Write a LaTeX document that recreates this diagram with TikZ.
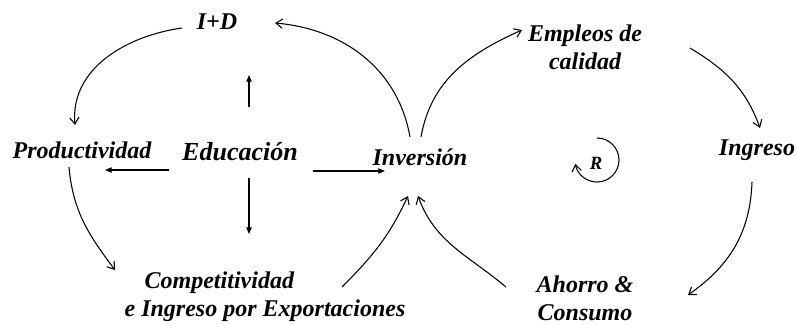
\documentclass[tikz,border=0pt]{standalone}
\usepackage{fontspec}
\setmainfont{Liberation Serif}
\usetikzlibrary{arrows.meta}
\tikzset{
  lbl/.style={font=\fontsize{18}{21}\selectfont\bfseries\itshape, inner sep=0pt, align=center},
  loopar/.style={line width=0.8pt, -{Straight Barb[length=5pt,width=7pt]}},
  straightar/.style={line width=0.8pt, -{Triangle[length=5pt,width=4pt]}}
}
\begin{document}
\begin{tikzpicture}[x=0.75pt,y=0.75pt]
\useasboundingbox (0,0) rectangle (797,-325);
% labels
\node[lbl] (id) at (217,-22) {I+D};
\node[lbl] (prod) at (82,-150) {Productividad};
\node[lbl, font=\fontsize{19.5}{22}\selectfont\bfseries\itshape] (edu) at (240,-152) {Educación};
\node[lbl] (inv) at (420,-157) {Inversión};
\node[lbl] (empl) at (585,-47) {Empleos de\\calidad};
\node[lbl] (ingr) at (757,-150) {Ingreso};
\node[lbl, align=left] (comp) at (265,-297) {\hspace*{15pt}Competitividad\\e Ingreso por Exportaciones};
\node[lbl] (ahorro) at (585,-298) {Ahorro \&\\Consumo};
\node[lbl, font=\fontsize{14}{16}\selectfont\bfseries\itshape] (R) at (596,-163) {R};
% free ends of the education arrows
\coordinate (eduup) at (249,-75);
\coordinate (edudown) at (249,-234);
\coordinate (eduleft) at (105,-170);
\coordinate (eduright) at (385,-171);
\draw[straightar] ([shift={(9,45)}]edu.center) -- (eduup);
\draw[straightar] ([shift={(9,-26)}]edu.center) -- (edudown);
\draw[straightar] ([shift={(-71,-18)}]edu.center) -- (eduleft);
\draw[straightar] ([shift={(73,-19)}]edu.center) -- (eduright);
% left loop
\draw[loopar] ([shift={(-35,-6)}]id.center) to[out=188,in=95] ([shift={(-7,25)}]prod.center);
\draw[loopar] ([shift={(-13,-17)}]prod.center) to[out=-85,in=127] ([shift={(-150,27)}]comp.center);
\draw[loopar] ([shift={(77,10)}]comp.center) to[out=45,in=-115] ([shift={(-12,-39)}]inv.center);
\draw[loopar] ([shift={(-10,20)}]inv.center) to[out=100,in=-5] ([shift={(58,-1)}]id.center);
% right loop
\draw[loopar] ([shift={(1,20)}]inv.center) to[out=80,in=204] ([shift={(-63,17)}]empl.center);
\draw[loopar] ([shift={(105,-1)}]empl.center) to[out=-31,in=110] ([shift={(3,22)}]ingr.center);
\draw[loopar] ([shift={(-5,-32)}]ingr.center) to[out=-92,in=35] ([shift={(103,3)}]ahorro.center);
\draw[loopar] ([shift={(-79,11)}]ahorro.center) to[out=140,in=-70] ([shift={(-2,-39)}]inv.center);
% reinforcing sign
\draw[loopar] ([shift={(1,25)}]R.center) arc[start angle=90,end angle=-170,radius=22];
\end{tikzpicture}
\end{document}
